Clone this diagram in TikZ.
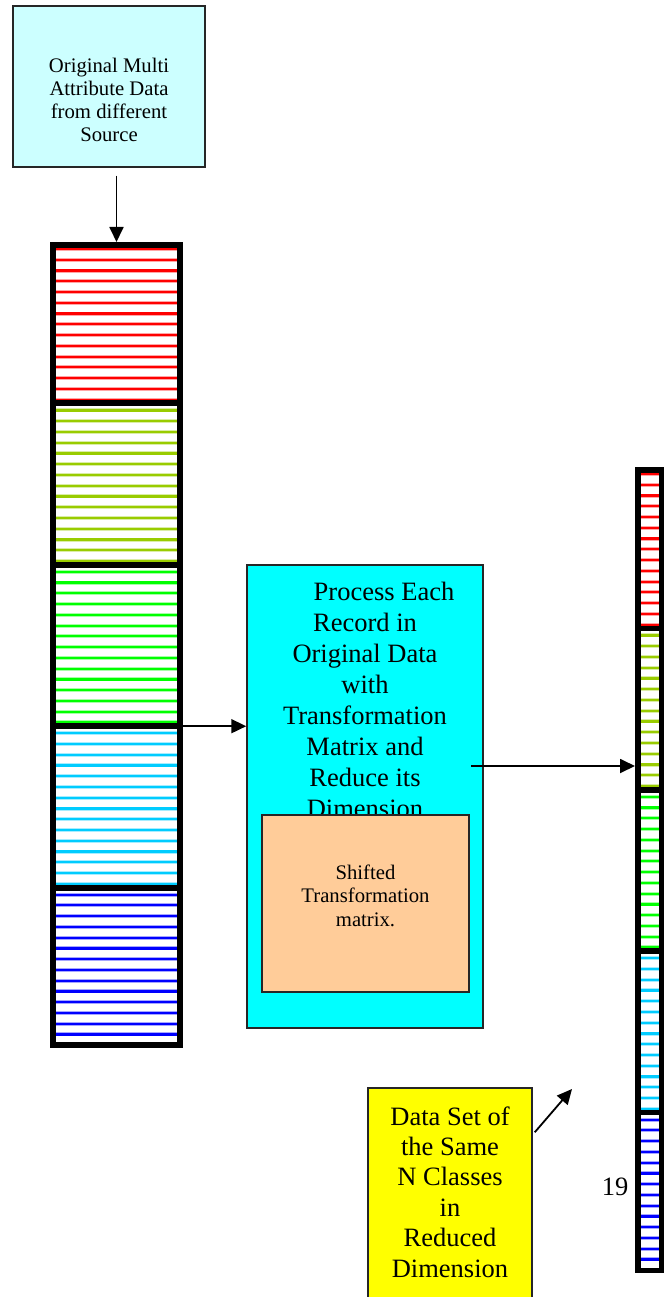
\documentclass[tikz,border=0pt]{standalone}
\usepackage{fontspec}
\setmainfont{Liberation Serif}
\usetikzlibrary{arrows.meta}

\definecolor{palecyan}{RGB}{204,255,255}
\definecolor{proccyan}{RGB}{0,255,255}
\definecolor{peach}{RGB}{255,204,153}
\definecolor{notey}{RGB}{255,255,0}
\definecolor{barred}{RGB}{255,0,0}
\definecolor{barolive}{RGB}{153,204,0}
\definecolor{bargreen}{RGB}{0,255,0}
\definecolor{barsky}{RGB}{0,204,255}
\definecolor{barblue}{RGB}{0,0,255}

\newcommand{\databar}[5]{%
  \foreach \col [count=\s from 0] in {barred,barolive,bargreen,barsky,barblue}
    \foreach \k in {0,...,14}{
      \draw[\col!35, line width=4pt] ({#2},{#4+7+(\s*15+\k)*10.76}) -- ({#3},{#4+7+(\s*15+\k)*10.76});
      \draw[\col, line width=2.2pt] ({#2},{#4+7+(\s*15+\k)*10.76}) -- ({#3},{#4+7+(\s*15+\k)*10.76});
    }
  \foreach \s in {1,...,4}{
    \draw[line width=#5pt] ({#2},{#4+\s*161.4}) -- ({#3},{#4+\s*161.4});
    \coordinate (#1 d\s) at ({#3},{#4+\s*161.4});
  }
  \node[draw, line width=#5pt, inner sep=0pt, minimum width={#3-#2-#5}, minimum height={806-#5}] (#1) at ({(#2+#3)/2},{#4+403}) {};
}

\begin{document}
\begin{tikzpicture}[x=1pt, y=-1pt,
  box/.style={draw=black!85, line width=1.5pt, inner sep=0pt},
  smalltext/.style={font=\fontsize{20.7}{23.3}\selectfont, align=center, inner sep=0pt},
  bigtext/.style={font=\fontsize{26.5}{30.4}\selectfont, align=center, inner sep=0pt},
  arr/.style={line width=1.8pt, -{Triangle[length=15pt, width=14pt]}}]
\useasboundingbox (0,0) rectangle (671,1297);

\node[box, fill=palecyan, minimum width=192, minimum height=161] (src) at (109,86.5) {};
\node[smalltext, anchor=base] (srctext) at (109,142) {Original Multi\\Attribute Data\\from different\\Source};

\databar{lbar}{50}{183}{242}{6}
\databar{rbar}{635}{664}{467}{5.5}

\node[box, fill=proccyan, minimum width=236, minimum height=463] (proc) at (365,796.5) {};
\node[bigtext, font=\fontsize{26.5}{30.9}\selectfont, anchor=base] (proctext) at (365,817) {\hspace*{38pt}Process Each\\Record in\\Original Data\\with\\Transformation\\Matrix and\\Reduce its\\Dimension};
\node[box, fill=peach, minimum width=207, minimum height=177] (shift) at (365.5,903.5) {};
\node[smalltext, anchor=base] (shifttext) at (365.5,926) {Shifted\\Transformation\\matrix.};

\node[box, fill=notey, minimum width=164, minimum height=240] (out) at (450,1208) {};
\node[bigtext, anchor=base] (outtext) at (450,1277) {Data Set of\\the Same\\N Classes\\in\\Reduced\\Dimension};

\node[bigtext, anchor=base] (pageno) at (615,1195) {19};

\coordinate (procout) at (471,766);
\coordinate (upto) at (572,1089);
\draw[arr] ([yshift=-8pt]lbar.north |- src.south) -- (lbar.north);
\draw[arr] (lbar d3) -- (lbar d3 -| proc.west);
\draw[arr] (procout) -- (procout -| rbar.west);
\draw[arr] ([shift={(2pt,-45pt)}]out.north east) -- (upto);
\end{tikzpicture}
\end{document}
